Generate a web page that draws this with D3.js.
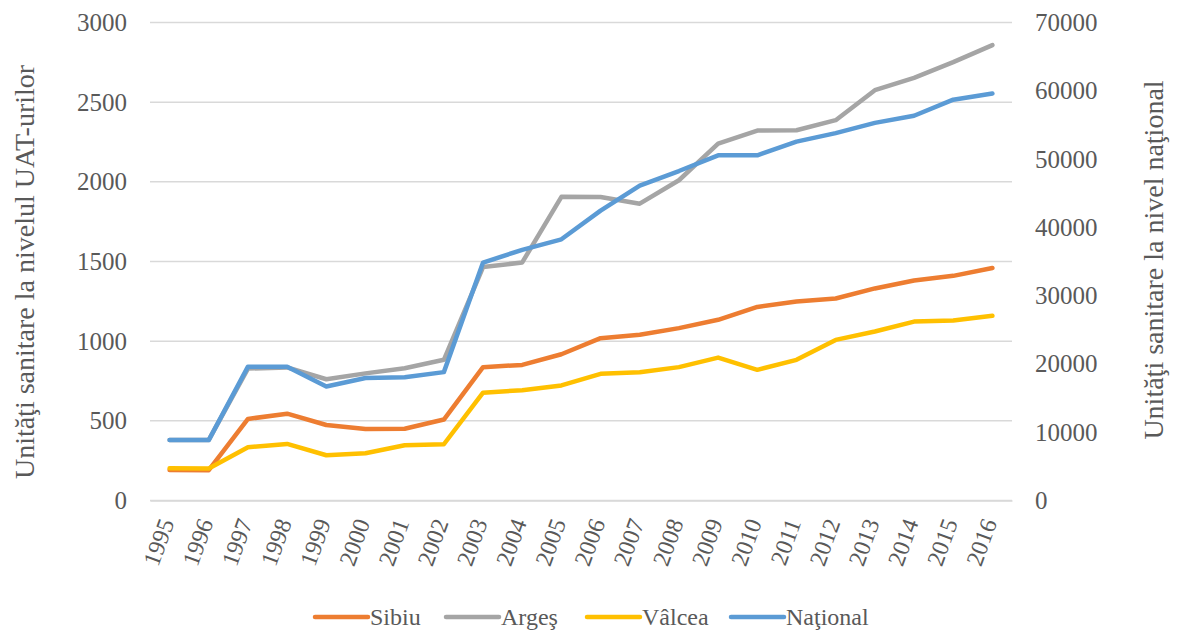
<!DOCTYPE html>
<html>
<head>
<meta charset="utf-8">
<script src="https://cdn.jsdelivr.net/npm/d3@7"></script>
<style>
  html, body { margin: 0; padding: 0; background: #fff; }
  svg text { font-family: "Liberation Serif", "DejaVu Serif", serif; fill: #595959; }
</style>
</head>
<body>
<svg id="chart" width="1179" height="634"></svg>
<script>
// Years on the category axis
const years = ["1995","1996","1997","1998","1999","2000","2001","2002","2003","2004","2005",
  "2006","2007","2008","2009","2010","2011","2012","2013","2014","2015","2016"];

// County-level counts (left axis)
const sibiu  = [192, 190, 512, 545, 474, 449, 450, 508, 837, 851, 918, 1019, 1040, 1082, 1134, 1215, 1249, 1268, 1331, 1381, 1410, 1459];
const arges  = [380, 380, 828, 835, 761, 798, 830, 883, 1465, 1494, 1906, 1905, 1863, 2010, 2240, 2322, 2324, 2387, 2575, 2653, 2751, 2858];
const valcea = [203, 201, 334, 355, 284, 297, 347, 353, 677, 692, 722, 795, 805, 837, 897, 820, 883, 1008, 1061, 1123, 1130, 1159];

// National counts (right axis)
const national = [8870, 8850, 19600, 19600, 16700, 17950, 18050, 18800, 34850, 36700, 38250, 42450, 46100, 48250, 50550, 50550, 52550, 53800, 55300, 56350, 58700, 59600];

const leftTicks  = [0, 500, 1000, 1500, 2000, 2500, 3000];
const rightTicks = [0, 10000, 20000, 30000, 40000, 50000, 60000, 70000];

const seriesInfo = [
  { name: "Sibiu",    values: sibiu,    color: "#ED7D31", axis: "left"  },
  { name: "Argeş",    values: arges,    color: "#A5A5A5", axis: "left"  },
  { name: "Vâlcea",   values: valcea,   color: "#FFC000", axis: "left"  },
  { name: "Naţional", values: national, color: "#5B9BD5", axis: "right" }
];

const svg = d3.select("#chart");
const plot = { left: 150, right: 1012, top: 22.5, bottom: 500.5 };

const x = d3.scaleBand().domain(years).range([plot.left, plot.right]);
const yL = d3.scaleLinear().domain([0, 3000]).range([plot.bottom, plot.top]);
const yR = d3.scaleLinear().domain([0, 70000]).range([plot.bottom, plot.top]);
const cx = d => x(d) + x.bandwidth() / 2;
const plain = d3.format("d");

// Horizontal gridlines
svg.append("g")
  .selectAll("line").data(leftTicks).join("line")
  .attr("x1", plot.left).attr("x2", plot.right)
  .attr("y1", d => yL(d)).attr("y2", d => yL(d))
  .attr("stroke", "#D9D9D9").attr("stroke-width", 1.5);

// Left axis labels
const gL = svg.append("g").attr("transform", `translate(${plot.left - 23},0)`)
  .call(d3.axisLeft(yL).tickValues(leftTicks).tickFormat(plain).tickSize(0).tickPadding(0));
gL.select(".domain").remove();
gL.selectAll("text").style("font-size", "25px").attr("fill", "#595959");

// Right axis labels
const gR = svg.append("g").attr("transform", `translate(${plot.right + 23},0)`)
  .call(d3.axisRight(yR).tickValues(rightTicks).tickFormat(plain).tickSize(0).tickPadding(0));
gR.select(".domain").remove();
gR.selectAll("text").style("font-size", "25px").attr("fill", "#595959");

// Bottom axis labels, rotated
const gX = svg.append("g").attr("transform", `translate(0,${plot.bottom})`)
  .call(d3.axisBottom(x).tickSize(0).tickPadding(0));
gX.select(".domain")
  .attr("stroke", "#D9D9D9").attr("stroke-width", 1.5);
gX.selectAll("text")
  .style("font-size", "24px").attr("fill", "#595959")
  .attr("text-anchor", "end")
  .attr("dy", "0.35em").attr("y", 0)
  .attr("transform", "translate(-3,19) rotate(-70)");

// Axis titles
svg.append("text")
  .attr("transform", `translate(34,272) rotate(-90)`)
  .attr("text-anchor", "middle")
  .style("font-size", "28px")
  .text("Unităţi sanitare la nivelul UAT-urilor");

svg.append("text")
  .attr("transform", `translate(1163,260) rotate(-90)`)
  .attr("text-anchor", "middle")
  .style("font-size", "28px")
  .text("Unităţi sanitare la nivel naţional");

// Series lines
const lineFor = s => d3.line()
  .x((d, i) => cx(years[i]))
  .y(d => (s.axis === "left" ? yL : yR)(d));

svg.append("g").selectAll("path").data(seriesInfo).join("path")
  .attr("d", s => lineFor(s)(s.values))
  .attr("fill", "none")
  .attr("stroke", s => s.color)
  .attr("stroke-width", 4.5)
  .attr("stroke-linejoin", "round")
  .attr("stroke-linecap", "round");

// Legend
const legendX = [315, 446, 587, 731];
const lg = svg.append("g").selectAll("g").data(seriesInfo).join("g")
  .attr("transform", (d, i) => `translate(${legendX[i]},617)`);
lg.append("line")
  .attr("x1", 0).attr("x2", 53)
  .attr("stroke", d => d.color).attr("stroke-width", 4.5)
  .attr("stroke-linecap", "round");
lg.append("text")
  .attr("x", 55).attr("dy", "0.35em")
  .style("font-size", "24px")
  .text(d => d.name);
</script>
</body>
</html>
